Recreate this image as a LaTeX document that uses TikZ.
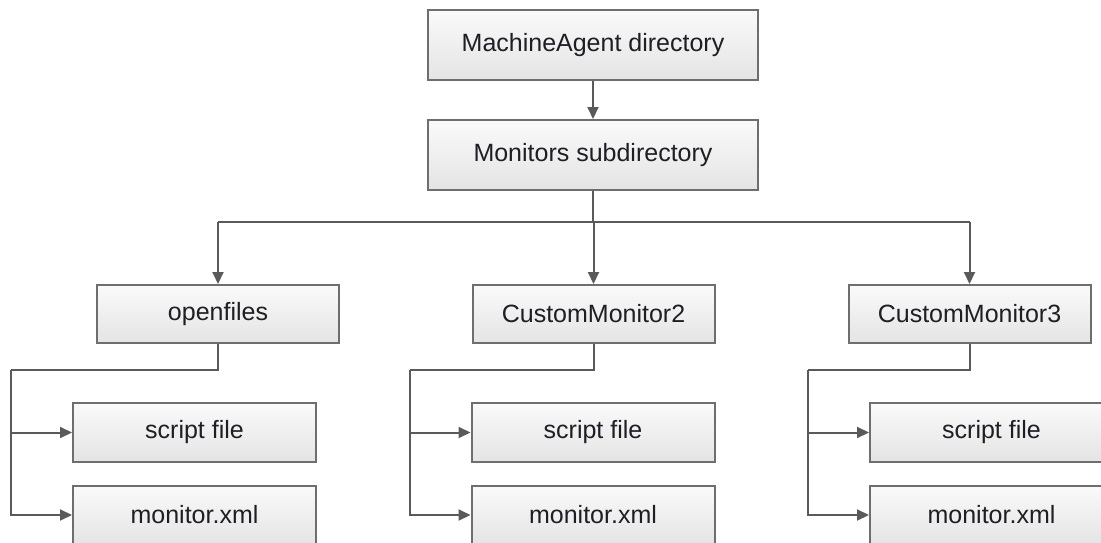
\documentclass[tikz,border=0pt]{standalone}
\usepackage{fontspec}
\setmainfont{Liberation Sans}
\usetikzlibrary{arrows.meta}
\definecolor{boxline}{RGB}{110,110,110}
\definecolor{conline}{RGB}{90,90,90}
\definecolor{boxtop}{RGB}{250,250,250}
\definecolor{boxbot}{RGB}{228,228,228}
\definecolor{txt}{RGB}{30,30,36}
\begin{document}
\begin{tikzpicture}[x=1pt,y=-1pt,
  fbox/.style={draw=boxline,line width=2pt,top color=boxtop,bottom color=boxbot,
    inner sep=0pt,text=txt,font=\fontsize{25}{30}\selectfont},
  topbox/.style={fbox,minimum width=330pt,minimum height=70pt},
  lvbox/.style={fbox,minimum width=242pt,minimum height=58pt},
  subbox/.style={fbox,minimum width=243pt,minimum height=59pt},
  line/.style={draw=conline,line width=2pt},
  conn/.style={line,-{Triangle[length=12pt,width=11pt]}}]
\clip (0,0) rectangle (1101,543);
\fill[white] (0,0) rectangle (1101,543);
% boxes
\node[topbox] (top) at (593,45) {MachineAgent directory};
\node[topbox] (mon) at (593,155) {Monitors subdirectory};
\node[lvbox] (open) at (218,314) {openfiles};
\node[lvbox] (cm2) at (593.5,314) {CustomMonitor2};
\node[lvbox] (cm3) at (969.5,314) {CustomMonitor3};
\node[subbox] (s1) at (194.5,432.5) {script file};
\node[subbox] (m1) at (194.5,515) {monitor.xml};
\node[subbox] (s2) at (593,432.5) {script file};
\node[subbox] (m2) at (593,515) {monitor.xml};
\node[subbox] (s3) at (991.5,432.5) {script file};
\node[subbox] (m3) at (991.5,515) {monitor.xml};
% connectors
\coordinate (hy) at (0,222);
\coordinate (t1) at (11,370);
\coordinate (t2) at (410,370);
\coordinate (t3) at (808,370);
\draw[conn] (top) -- (mon);
\draw[line] (mon.south) -- (mon.south |- hy);
\draw[line] (open.north |- hy) -- (cm3.north |- hy);
\draw[conn] (open.north |- hy) -- (open.north);
\draw[conn] (cm2.north |- hy) -- (cm2.north);
\draw[conn] (cm3.north |- hy) -- (cm3.north);
\draw[line] (open.south) |- (t1);
\draw[conn] (t1) |- (s1.west);
\draw[conn] (t1) |- (m1.west);
\draw[line] (cm2.south) |- (t2);
\draw[conn] (t2) |- (s2.west);
\draw[conn] (t2) |- (m2.west);
\draw[line] (cm3.south) |- (t3);
\draw[conn] (t3) |- (s3.west);
\draw[conn] (t3) |- (m3.west);
\end{tikzpicture}
\end{document}
